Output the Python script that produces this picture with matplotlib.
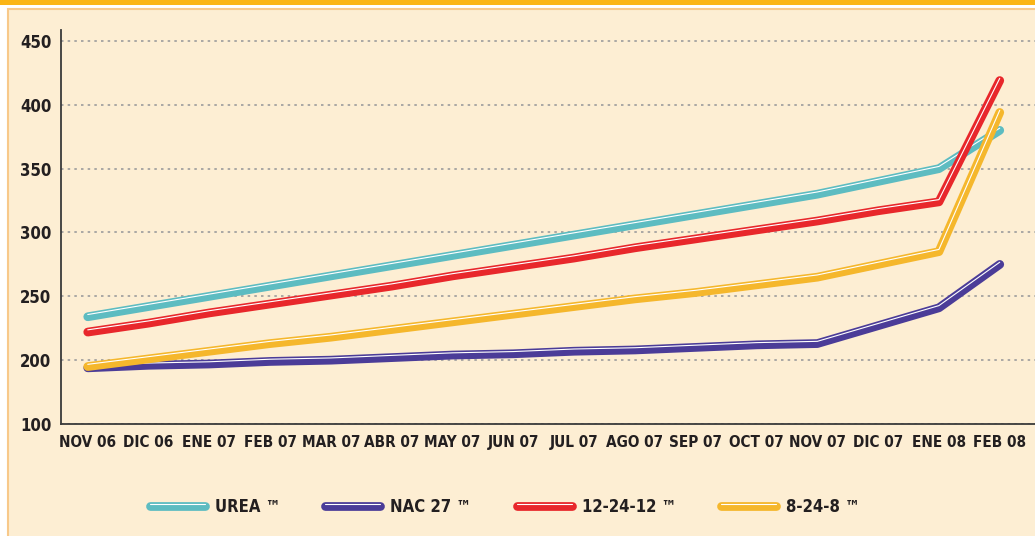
import matplotlib.pyplot as plt
import matplotlib.patheffects as pe
from matplotlib.patches import Rectangle

# months and prices
months = ["NOV 06", "DIC 06", "ENE 07", "FEB 07", "MAR 07", "ABR 07", "MAY 07", "JUN 07",
          "JUL 07", "AGO 07", "SEP 07", "OCT 07", "NOV 07", "DIC 07", "ENE 08", "FEB 08"]
urea = [234, 242, 250, 258, 266, 274, 282, 290, 298, 306, 314, 322, 330, 340, 350, 380]
nac27 = [194, 196, 197, 199, 200, 202, 204, 205, 207, 208, 210, 212, 213, 227, 241, 275]
npk_12 = [222, 229, 237, 244, 251, 258, 266, 273, 280, 288, 295, 302, 309, 317, 324, 419]
npk_8 = [195, 201, 207, 213, 218, 224, 230, 236, 242, 248, 253, 259, 265, 275, 285, 394]

series_names = ["UREA \u2122", "NAC 27 \u2122", "12-24-12 \u2122", "8-24-8 \u2122"]
colors = ["#5DBCC1", "#4B3C98", "#E8272B", "#F5B72C"]

# the axis is broken: bottom tick is printed as 100
yticks = [150, 200, 250, 300, 350, 400, 450]
ytick_labels = ["100", "200", "250", "300", "350", "400", "450"]

plt.rcParams['font.family'] = ['DejaVu Sans']
plt.rcParams['font.stretch'] = 'condensed'
plt.rcParams['font.weight'] = 'bold'

fig = plt.figure(figsize=(10.35, 5.36), dpi=100, facecolor="white")

# page decoration: orange strip and cream box
fig.patches.append(Rectangle((0, 531 / 536), 1, 5 / 536, transform=fig.transFigure,
                             facecolor="#FBB515", edgecolor="none", zorder=-10))
fig.patches.append(Rectangle((8 / 1035, -0.01), 1.0, 1 - 9 / 536 + 0.01,
                             transform=fig.transFigure, facecolor="#FDEED3",
                             edgecolor="#F8C98A", linewidth=1.5, zorder=-10))

ax = fig.add_axes([61 / 1035, 1 - 424 / 536, 1 - 61 / 1035, (424 - 30) / 536])
ax.set_facecolor("none")

x = list(range(len(months)))
for vals, name, col in zip([urea, nac27, npk_12, npk_8], series_names, colors):
    ax.plot(x, vals, color="white", lw=0.8, solid_capstyle="round", label=name,
            path_effects=[pe.Stroke(linewidth=6.3, foreground=col, capstyle="round"),
                          pe.Stroke(offset=(0, 1.6), linewidth=0.8, foreground="white")])

ax.set_xlim(-0.44, 15.58)
ax.set_ylim(150, 458.6)
ax.set_xticks(x)
ax.set_xticklabels(months, fontsize=11, color="#231F20")
ax.set_yticks(yticks)
ax.set_yticklabels(ytick_labels, fontsize=12, color="#231F20")
ax.tick_params(length=0, pad=8)
ax.tick_params(axis="y", pad=7)

ax.grid(axis="y", color="#9C9C9C", linestyle=(0, (1.5, 2.5)), linewidth=1.2)
ax.set_axisbelow(True)
for s in ["top", "right"]:
    ax.spines[s].set_visible(False)
for s in ["left", "bottom"]:
    ax.spines[s].set_color("#3A3A3A")
    ax.spines[s].set_linewidth(1.3)

leg = fig.legend(loc="center", bbox_to_anchor=(0.488, 1 - 507 / 536), ncol=4,
                 frameon=False, fontsize=12, handlelength=3.3, columnspacing=2.7,
                 handletextpad=0.6)
for t in leg.get_texts():
    t.set_color("#231F20")

fig.savefig("out.png", dpi=100, facecolor=fig.get_facecolor())
